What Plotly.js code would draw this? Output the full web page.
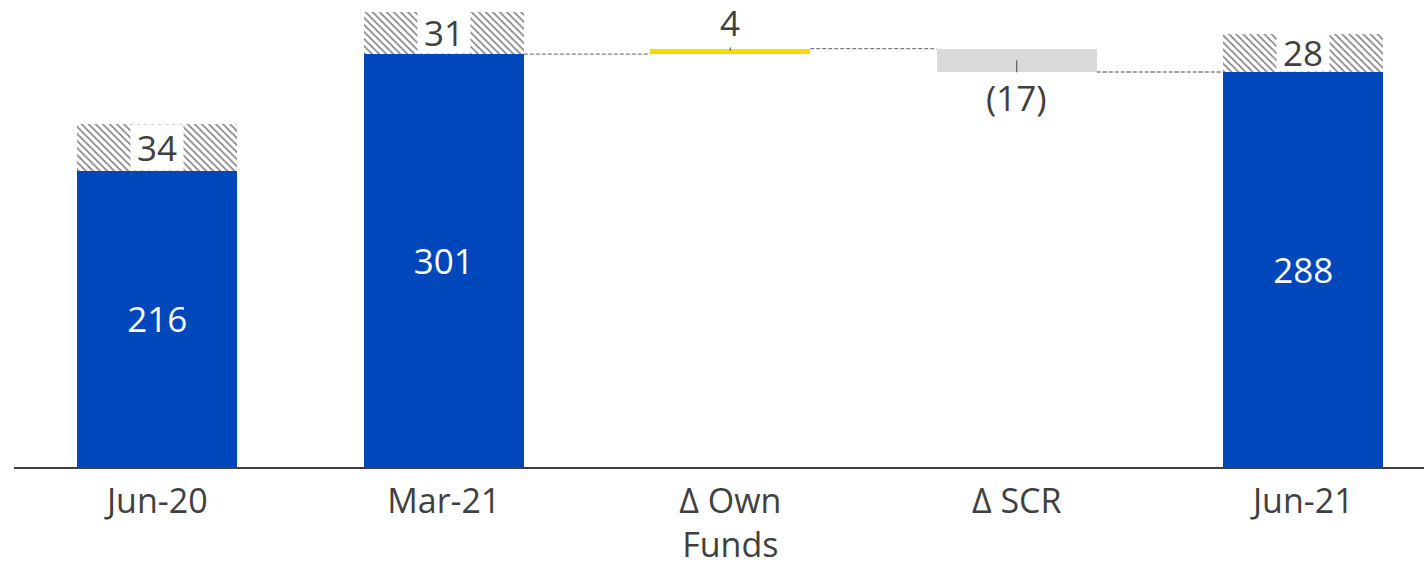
<!DOCTYPE html>
<html>
<head>
<meta charset="utf-8">
<script src="https://cdn.plot.ly/plotly-3.0.1.min.js"></script>
<style>html,body{margin:0;padding:0;background:#fff;}#chart{width:1424px;height:563px;}</style>
</head>
<body>
<div id="chart"></div>
<script>
// ---- data ----
const categories = ['Jun-20', 'Mar-21', 'Δ Own<br>Funds', 'Δ SCR', 'Jun-21'];
const ratioValues = [216, 301, null, null, 288];     // solid blue bars
const bufferValues = [34, 31, null, null, 28];       // hatched segments on top
const ownFundsDelta = 4;
const scrDelta = -17;

// ---- derived ----
const xIdx = categories.map((c, i) => i);
const barW = 0.5585;
const half = barW / 2;
const startLevel = ratioValues[1];
const afterOwn = startLevel + ownFundsDelta;
const afterScr = afterOwn + scrDelta;

const H = 563, MB = 96, YMAX = 340.5;
const pxPerUnit = (H - MB) / YMAX;

const totalIdx = xIdx.filter(i => ratioValues[i] !== null);
const textColor = '#404040';
const FONT = 'Open Sans, sans-serif';

const traces = [
  {
    type: 'bar', x: totalIdx, y: totalIdx.map(i => ratioValues[i]), base: totalIdx.map(() => 0),
    width: barW, marker: {color: '#0047BB', line: {width: 0}},
    text: totalIdx.map(i => String(ratioValues[i])), textposition: 'inside', insidetextanchor: 'middle',
    textfont: {color: '#ffffff', size: 35, family: FONT}, hoverinfo: 'skip', showlegend: false
  },
  {
    type: 'bar', x: totalIdx, y: totalIdx.map(i => bufferValues[i]), base: totalIdx.map(i => ratioValues[i]),
    width: barW,
    marker: {color: '#ffffff', line: {width: 0},
      pattern: {shape: '\\', fgcolor: '#000000', bgcolor: '#ffffff', size: 5, solidity: 0.32, fillmode: 'overlay'}},
    hoverinfo: 'skip', showlegend: false
  },
  {
    type: 'bar', x: [2], y: [Math.abs(ownFundsDelta)], base: [Math.min(startLevel, afterOwn)],
    width: barW, marker: {color: '#F0DC00', line: {width: 0}}, hoverinfo: 'skip', showlegend: false
  },
  {
    type: 'bar', x: [3], y: [Math.abs(scrDelta)], base: [Math.min(afterOwn, afterScr)],
    width: barW, marker: {color: '#D9D9D9', line: {width: 0}}, hoverinfo: 'skip', showlegend: false
  }
];

const annotations = [];
totalIdx.forEach(i => {
  annotations.push({
    x: i, y: ratioValues[i] + bufferValues[i] / 2, xref: 'x', yref: 'y',
    text: String(bufferValues[i]), showarrow: false, bgcolor: '#ffffff',
    width: 52, height: Math.floor(bufferValues[i] * pxPerUnit) - 1, borderpad: 0, valign: 'middle',
    font: {size: 35, color: textColor, family: FONT}
  });
});
annotations.push({
  x: 2, y: afterOwn - 1.3, xref: 'x', yref: 'y', text: String(ownFundsDelta),
  showarrow: true, arrowhead: 0, arrowwidth: 1, arrowcolor: textColor, ax: 0, ay: -28,
  font: {size: 35, color: textColor, family: FONT}
});
annotations.push({
  x: 3, y: afterScr + Math.abs(scrDelta) / 2, xref: 'x', yref: 'y', text: '(' + Math.abs(scrDelta) + ')',
  showarrow: true, arrowhead: 0, arrowwidth: 1, arrowcolor: textColor, ax: 0, ay: 37,
  font: {size: 35, color: textColor, family: FONT}
});

const connector = (x0, x1, y) => ({
  type: 'line', xref: 'x', yref: 'y', x0: x0, x1: x1, y0: y, y1: y,
  line: {color: '#808080', width: 1.3, dash: '4px,2px'}
});
const shapes = [
  connector(1 + half, 2 - half, startLevel),
  connector(2 + half, 3 - half, afterOwn),
  connector(3 + half, 4 - half, afterScr)
];

const layout = {
  width: 1424, height: H,
  margin: {l: 14, r: 0, t: 0, b: MB},
  paper_bgcolor: '#ffffff', plot_bgcolor: '#ffffff',
  barmode: 'overlay', bargap: 0,
  showlegend: false,
  xaxis: {
    type: 'linear', range: [-0.5, 4.4215], tickvals: xIdx, ticktext: categories,
    showline: true, linecolor: '#404040', linewidth: 2, ticks: '', showgrid: false, zeroline: false,
    ticklabelstandoff: 3,
    tickfont: {size: 34, color: textColor, family: FONT}, fixedrange: true
  },
  yaxis: {
    range: [0, YMAX], showticklabels: false, showgrid: false, zeroline: false, showline: false, fixedrange: true
  },
  annotations: annotations,
  shapes: shapes,
  font: {family: FONT, color: textColor}
};

Plotly.newPlot('chart', traces, layout, {displayModeBar: false, staticPlot: true});
</script>
</body>
</html>
